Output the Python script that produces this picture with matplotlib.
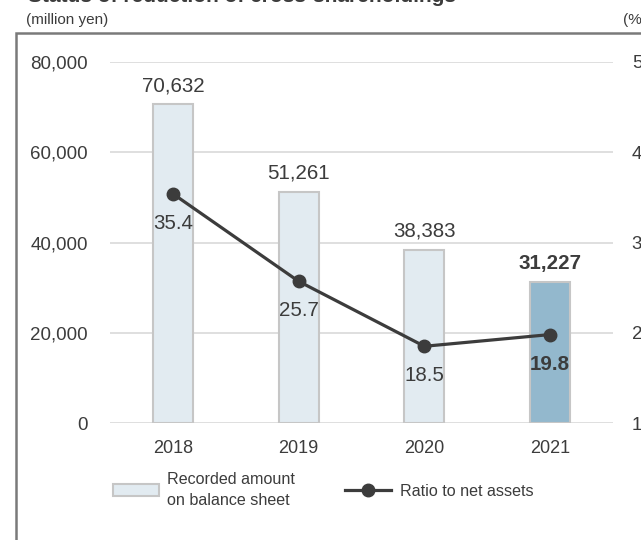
import matplotlib.pyplot as plt
from matplotlib.lines import Line2D
from matplotlib.patches import Patch, Rectangle

plt.rcParams['font.family'] = ['Liberation Sans', 'DejaVu Sans']

# data
years = ['2018', '2019', '2020', '2021']
amounts = [70632, 51261, 38383, 31227]
ratios = [35.4, 25.7, 18.5, 19.8]

bar_light = '#e2ebf1'
bar_dark = '#93b8cd'
edge = '#c6c6c6'
txt = '#3c3c3c'

fig = plt.figure(figsize=(6.41, 5.40), dpi=100)
ax = fig.add_axes([110 / 641, 117 / 540, 503 / 641, 361 / 540])
ax2 = ax.twinx()

x = list(range(len(years)))
colors = [bar_light] * 3 + [bar_dark]
ax.bar(x, amounts, width=0.317, color=colors, edgecolor=edge, linewidth=1.5, zorder=3)
ax.set_xlim(-0.5, 3.5)
ax.set_ylim(0, 80000)
ax.set_yticks([0, 20000, 40000, 60000, 80000])
ax.set_yticklabels(['{:,}'.format(v) for v in [0, 20000, 40000, 60000, 80000]])
ax.set_xticks(x)
ax.set_xticklabels(years)
ax.grid(axis='y', color='#d9d9d9', linewidth=1.2, zorder=0)
ax.set_axisbelow(True)
for s in ax.spines.values():
    s.set_visible(False)
ax.tick_params(axis='y', length=0, pad=15.8, labelsize=13.5, labelcolor=txt)
ax.tick_params(axis='x', length=0, pad=12, labelsize=13, labelcolor=txt)

# value labels above bars
for i, v in enumerate(amounts):
    bold = i == len(amounts) - 1
    ax.annotate('{:,}'.format(v), (i, v), xytext=(0, 9.4), textcoords='offset points',
                ha='center', va='baseline', fontsize=14.8, color=txt,
                fontweight='bold' if bold else 'normal')

# ratio line on right axis
ax2.plot(x, ratios, color=txt, linewidth=2.3, marker='o', markersize=9, zorder=5)
ax2.set_ylim(10, 50)
ax2.set_yticks([10, 20, 30, 40, 50])
for s in ax2.spines.values():
    s.set_visible(False)
ax2.tick_params(axis='y', length=0, pad=13.5, labelsize=13.5, labelcolor=txt)
for i, r in enumerate(ratios):
    bold = i == len(ratios) - 1
    ax2.annotate('{:.1f}'.format(r), (i, r), xytext=(0, -25.3), textcoords='offset points',
                 ha='center', va='baseline', fontsize=14.8, color=txt,
                 fontweight='bold' if bold else 'normal')

# frame around the panel
fig.add_artist(Rectangle((16 / 641, -0.1), 1.2, (540 - 33) / 540 + 0.1,
                         transform=fig.transFigure, fill=False,
                         edgecolor='#7a7a7a', linewidth=1.8))

fig.text(28 / 641, 1 - 2 / 540, 'Status of reduction of cross-shareholdings',
         fontsize=15, fontweight='bold', color=txt, va='baseline')
fig.text(26 / 641, 1 - 20 / 540, '(million yen)', fontsize=11, color=txt, va='center')
fig.text(623 / 641, 1 - 20 / 540, '(%)', fontsize=11, color=txt, va='center')

# legend
handles = [Patch(facecolor=bar_light, edgecolor=edge, linewidth=1.5),
           Line2D([], [], color=txt, linewidth=2.3, marker='o', markersize=9)]
labels = ['Recorded amount\non balance sheet', 'Ratio to net assets']
leg = fig.legend(handles, labels, loc='center left', bbox_to_anchor=(98 / 641, 1 - 490 / 540),
                 ncol=2, frameon=False, fontsize=11.6, labelcolor=txt, handlelength=2.86,
                 handleheight=0.75, columnspacing=3.1, handletextpad=0.54)
for t in leg.get_texts():
    t.set_linespacing(1.45)

fig.savefig('out.png', dpi=100)
